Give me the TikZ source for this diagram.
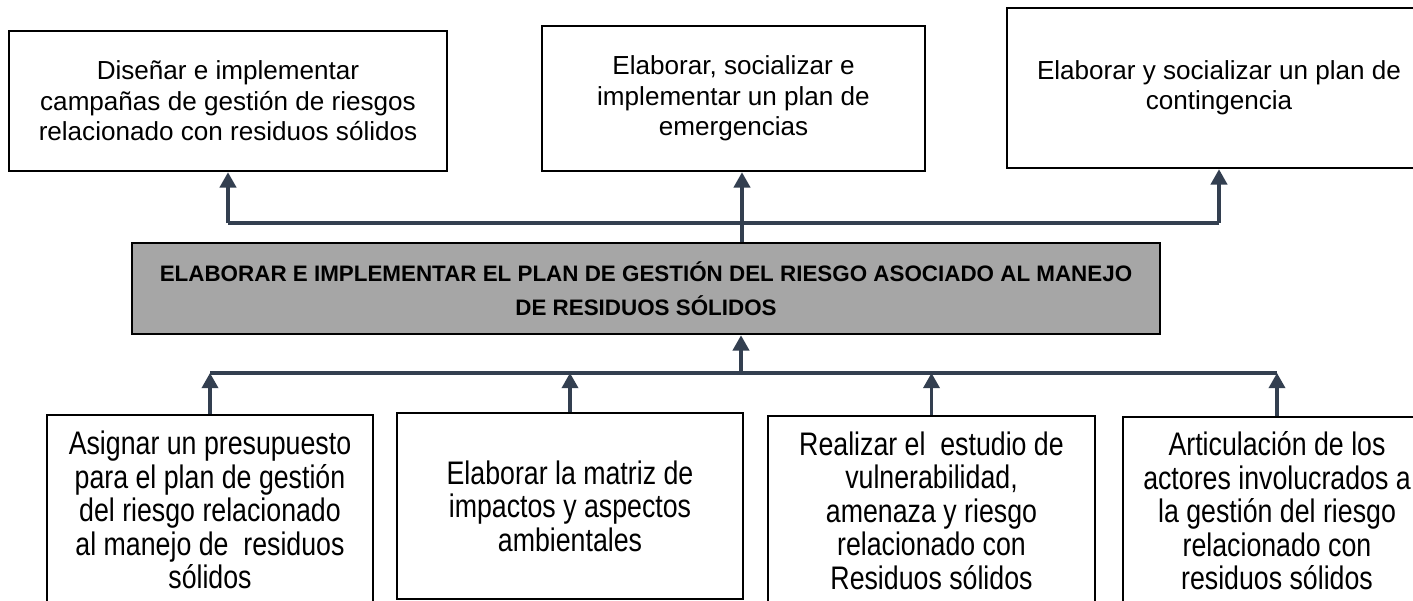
\documentclass[tikz,border=0pt]{standalone}
\usepackage{fontspec}
\setmainfont{Liberation Sans}
\newfontfamily\narrowsf[FakeStretch=0.82]{Liberation Sans}
\usetikzlibrary{arrows.meta}
\definecolor{linkgray}{RGB}{51,63,80}
\definecolor{titlefill}{RGB}{166,166,166}

\begin{document}
\begin{tikzpicture}[x=0.46pt, y=-0.46pt,
  every node/.style={draw, line width=1.2pt, inner sep=2pt, align=center},
  topbox/.style={font=\fontsize{12}{14}\selectfont},
  lowbox/.style={font=\narrowsf\fontsize{15}{15.4}\selectfont},
  titlebox/.style={fill=titlefill, font=\bfseries\fontsize{10.3}{15.6}\selectfont},
  link/.style={draw=linkgray, line width=1.4pt},
  arr/.style={link, -{Triangle[length=7pt, width=7.5pt]}}]
  \useasboundingbox (0,0) rectangle (1413,601);
  \node[topbox, minimum width=201.5pt, minimum height=64.4pt] (A) at (228, 101) {Diseñar e implementar\\campañas de gestión de riesgos\\relacionado con residuos sólidos};
  \node[topbox, minimum width=176.2pt, minimum height=66.7pt] (B) at (733.5, 98.5) {Elaborar, socializar e\\implementar un plan de\\emergencias};
  \node[topbox, minimum width=195pt, minimum height=73.6pt] (C) at (1219, 88) {Elaborar y socializar un plan de\\contingencia};
  \node[titlebox, minimum width=472.9pt, minimum height=41.9pt] (M) at (646, 288.5) {ELABORAR E IMPLEMENTAR EL PLAN DE GESTIÓN DEL RIESGO ASOCIADO AL MANEJO\\DE RESIDUOS SÓLIDOS};
  \node[lowbox, minimum width=150pt, minimum height=87.4pt] (D) at (210, 510) {Asignar un presupuesto\\para el plan de gestión\\del riesgo relacionado\\al manejo de~ residuos\\sólidos};
  \node[lowbox, minimum width=159.2pt, minimum height=85.6pt] (E) at (570, 506) {Elaborar la matriz de\\impactos y aspectos\\ambientales};
  \node[lowbox, minimum width=150.4pt, minimum height=86.9pt] (F) at (931.5, 510.5) {Realizar el~ estudio de\\vulnerabilidad,\\amenaza y riesgo\\relacionado con\\Residuos sólidos};
  \node[lowbox, minimum width=141.7pt, minimum height=86.5pt] (G) at (1277, 511) {Articulación de los\\actores involucrados a\\la gestión del riesgo\\relacionado con\\residuos sólidos};
  \coordinate (tbus) at (742, 223);
  \coordinate (bbus) at (741, 373);
  \draw[link] (A.south |- tbus) -- (C.south |- tbus);
  \draw[arr] (A.south |- tbus) -- (A.south);
  \draw[arr] (M.north -| tbus) -- (B.south -| tbus);
  \draw[arr] (C.south |- tbus) -- (C.south);
  \draw[link] (D.north |- bbus) -- (G.north |- bbus);
  \draw[arr] (bbus) -- (M.south -| bbus);
  \draw[arr] (D.north) -- (D.north |- bbus);
  \draw[arr] (E.north) -- (E.north |- bbus);
  \draw[arr] (F.north) -- (F.north |- bbus);
  \draw[arr] (G.north) -- (G.north |- bbus);
\end{tikzpicture}
\end{document}
